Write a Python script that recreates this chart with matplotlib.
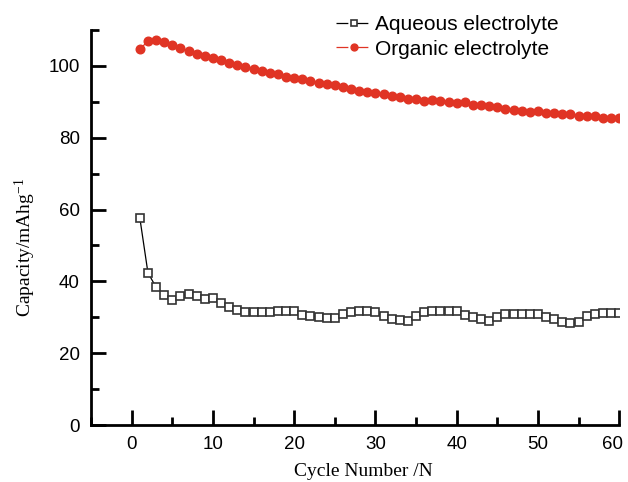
import matplotlib
matplotlib.use('Agg')
import matplotlib.pyplot as plt
import matplotlib.transforms as mtransforms
import numpy as np
from matplotlib.ticker import MultipleLocator, FixedLocator

plt.rcParams['mathtext.default'] = 'regular'

cycles = np.arange(1, 61)
aqueous = [57.7, 42.4, 38.4, 36.3, 34.9, 36.0, 36.4, 35.8, 35.1, 35.3,
           33.9, 32.8, 32.1, 31.6, 31.4, 31.6, 31.5, 31.8, 31.9, 31.8,
           30.7, 30.4, 30.2, 29.7, 29.9, 31.0, 31.6, 31.9, 31.7, 31.4,
           30.3, 29.6, 29.3, 29.1, 30.3, 31.5, 31.7, 31.9, 31.8, 31.8,
           30.7, 30.2, 29.6, 29.1, 30.0, 30.9, 30.9, 31.0, 30.9, 31.0,
           30.2, 29.5, 28.8, 28.4, 28.6, 30.4, 30.9, 31.1, 31.1, 31.1]
organic = [104.7, 106.8, 107.3, 106.6, 105.9, 104.9, 104.2, 103.4, 102.8, 102.1,
           101.5, 100.9, 100.3, 99.7, 99.2, 98.6, 98.0, 97.6, 96.9, 96.5,
           96.2, 95.9, 95.3, 95.0, 94.6, 94.1, 93.6, 93.0, 92.85, 92.4,
           92.1, 91.5, 91.2, 90.9, 90.8, 90.3, 90.6, 90.1, 89.9, 89.6,
           89.9, 89.1, 89.2, 88.7, 88.5, 87.9, 87.8, 87.5, 87.2, 87.4,
           86.8, 86.8, 86.5, 86.6, 86.1, 86.1, 85.9, 85.6, 85.6, 85.4]
xticks = [0, 10, 20, 30, 40, 50, 60]

sans = ['Liberation Sans', 'DejaVu Sans']
serif = ['Liberation Serif', 'DejaVu Serif']
red = '#e03424'

fig = plt.figure(figsize=(6.28, 4.82), dpi=100)
ax = fig.add_axes([0.145, 0.118, 0.841, 0.82])

ax.plot(cycles, aqueous, color='black', lw=0.9, marker='s', ms=5.8,
        mfc='white', mec='#333333', mew=1.2, label='Aqueous electrolyte')
ax.plot(cycles, organic, color=red, lw=0.9, marker='o', ms=6.2,
        mfc=red, mec=red, label='Organic electrolyte')

ax.set_xlim(-5, 60)
ax.set_ylim(0, 110)
ax.xaxis.set_major_locator(FixedLocator(xticks))
ax.xaxis.set_minor_locator(MultipleLocator(5))
ax.yaxis.set_major_locator(MultipleLocator(20))
ax.yaxis.set_minor_locator(MultipleLocator(10))

for s in ['top', 'right']:
    ax.spines[s].set_visible(False)
for s in ['left', 'bottom']:
    ax.spines[s].set_linewidth(2)

ax.tick_params(which='major', direction='in', length=11, width=2, pad=8)
ax.tick_params(which='minor', direction='in', length=6, width=2)
for lab in ax.get_xticklabels() + ax.get_yticklabels():
    lab.set_family(sans)
    lab.set_fontsize(13.5)

# nudge the last x label so it stays inside the figure
last = ax.xaxis.get_major_ticks()[-1].label1
last.set_transform(last.get_transform() +
                   mtransforms.ScaledTranslation(-5 / 72, 0, fig.dpi_scale_trans))

ax.set_xlabel('Cycle Number /N', family=serif, fontsize=14)
ax.xaxis.set_label_coords(0.515, -0.095)
ax.set_ylabel('Capacity/mAhg$^{-1}$', family=serif, fontsize=14)
ax.yaxis.set_label_coords(-0.10, 0.45)

leg = fig.legend(loc='upper left', bbox_to_anchor=(0.535, 0.968), frameon=False,
                 prop={'family': sans, 'size': 15}, handlelength=1.7,
                 handletextpad=0.15, labelspacing=0.25, borderpad=0,
                 borderaxespad=0, markerscale=0.8)
for ln in leg.get_lines():
    ln.set_dashes([9.5, 6.5])

fig.savefig('out.png', dpi=100)
